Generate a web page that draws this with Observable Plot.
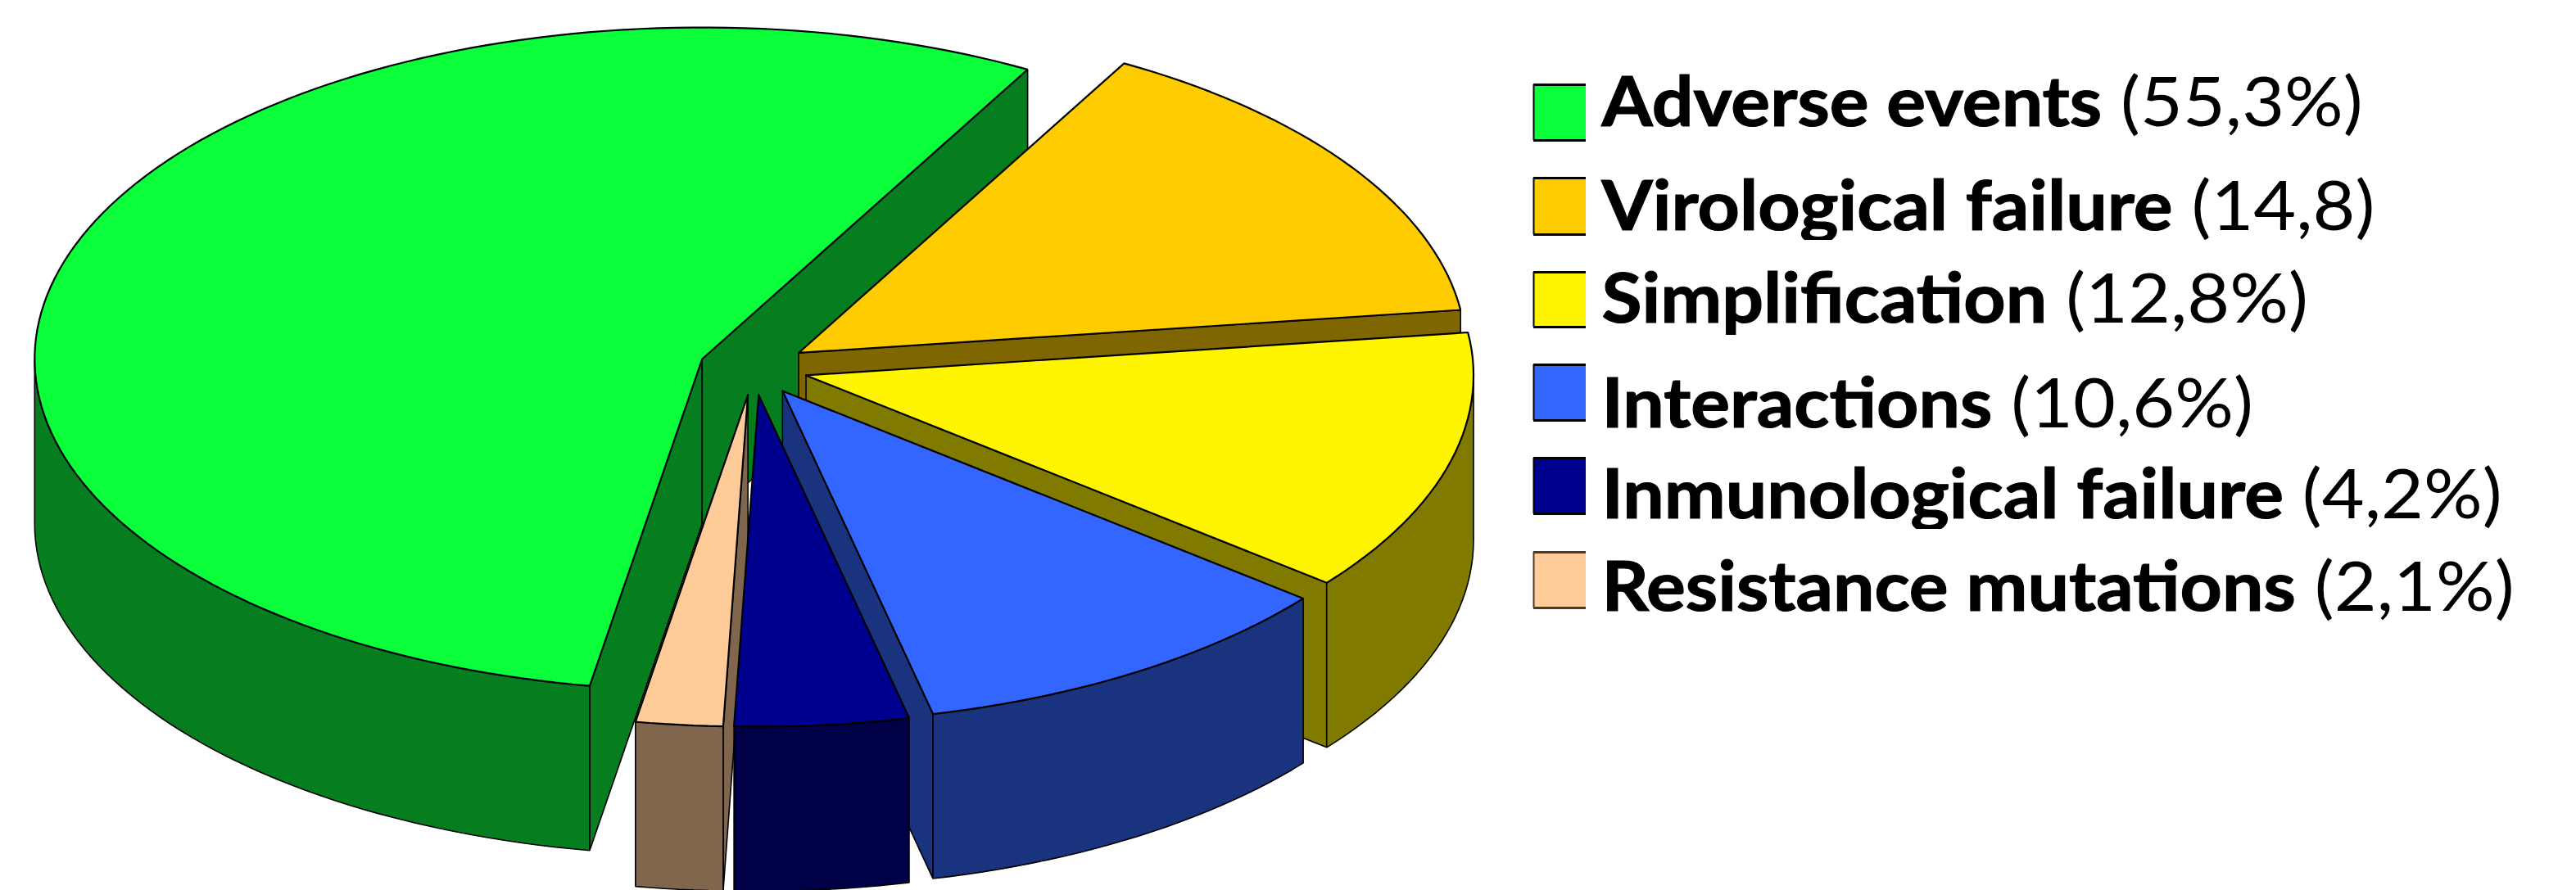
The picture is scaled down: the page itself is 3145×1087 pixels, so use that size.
<!DOCTYPE html>
<html>
<head>
<meta charset="utf-8">
<script src="https://cdn.jsdelivr.net/npm/d3@7"></script>
<script src="https://cdn.jsdelivr.net/npm/@observablehq/plot@0.6"></script>
<style>
html,body{margin:0;padding:0;background:#fff;overflow:hidden}
svg{display:block;max-width:none}
</style>
</head>
<body>
<div id="chart"></div>
<script>
const categories = ["Adverse events","Virological failure","Simplification","Interactions","Inmunological failure","Resistance mutations"];
const values = [55.3,14.8,12.8,10.6,4.2,2.1];
const valueLabels = ["(55,3%)","(14,8)","(12,8%)","(10,6%)","(4,2%)","(2,1%)"];
const topColors = ["#0aff3a","#ffcc00","#fff500","#3366ff","#00008f","#ffcc99"];
const wallColors = ["#067d1e","#806600","#807a00","#19337f","#000047","#80664d"];
const drawOrder = [0,1,2,3,5,4];

// layout of the pie
const W = 3145, H = 1087;
const pie = {cx:919.5, cy:449, rx:815, ry:405, depth:201, explode:0.0816, startDeg:99.7};
// layout of the legend
const legend = {swatchX1:1872, swatchX2:1936, textX:1955, fontSize:84, stretch:1.066,
  swatchTop:[103,217,332,445,559,674], swatchBottom:[171,286,399,513,627,742], baseline:[153,280,393,521,632,745],
  borders:["#000","#000","#000","#000","#000","#4d3a26"]};
const masks = [[293,325],[646,675]];

const total = d3.sum(values);
const rad = d => d*Math.PI/180;
let acc = pie.startDeg;
const slices = values.map((v,i)=>{
  let a0 = acc, a1 = acc + v/total*360; acc = a1;
  if(a0>=180){a0-=360;a1-=360;}
  const mid = rad((a0+a1)/2);
  return {i, a0, a1, ax: pie.cx + pie.explode*pie.rx*Math.cos(mid), ay: pie.cy + pie.explode*pie.ry*Math.sin(mid)};
});
function arcPts(s,a0,a1,dz=0){
  const n = Math.max(2,Math.ceil(Math.abs(a1-a0)/1.5)), out=[];
  for(let k=0;k<=n;k++){
    const t = rad(a0+(a1-a0)*k/n);
    out.push({x:s.ax+pie.rx*Math.cos(t), y:s.ay+pie.ry*Math.sin(t)+dz});
  }
  return out;
}
const poly = (pts,fill,sw)=>Plot.line([...pts,pts[0]],{x:"x",y:"y",fill,stroke:"#000",strokeWidth:sw,curve:"linear",strokeLinejoin:"miter"});
const visibleWall = deg => Math.sin(rad(deg)) > 0; // normal of the radial wall faces the viewer

const pieMarks = drawOrder.flatMap(i=>{
  const s = slices[i], marks = [], d = pie.depth, wall = wallColors[i];
  const radial = a => {
    const p = arcPts(s,a,a)[0];
    return poly([{x:s.ax,y:s.ay},p,{x:p.x,y:p.y+d},{x:s.ax,y:s.ay+d}],wall,1.6);
  };
  if(visibleWall(s.a0-90)) marks.push(radial(s.a0));
  if(visibleWall(s.a1+90)) marks.push(radial(s.a1));
  const lo = Math.max(s.a0,0), hi = Math.min(s.a1,180);
  if(hi>lo){
    marks.push(poly([...arcPts(s,lo,hi),...arcPts(s,hi,lo,d)],wall,1.6));
  }
  marks.push(poly([{x:s.ax,y:s.ay},...arcPts(s,s.a0,s.a1)],topColors[i],2.2));
  return marks;
});

const rows = categories.map((c,i)=>({
  label:c+" "+valueLabels[i], fill:topColors[i], border:legend.borders[i],
  top:legend.swatchTop[i], bottom:legend.swatchBottom[i], base:legend.baseline[i]
}));

const plot = Plot.plot({
  width:W, height:H, margin:0,
  x:{domain:[0,W],range:[0,W],axis:null},
  y:{domain:[0,H],range:[0,H],axis:null},
  marks:[
    ...pieMarks,
    Plot.rect(rows,{x1:legend.swatchX1,x2:legend.swatchX2,y1:"top",y2:"bottom",fill:"fill"}),
    Plot.ruleY(rows,{y:"top",x1:legend.swatchX1,x2:legend.swatchX2,stroke:"border",strokeWidth:3}),
    Plot.ruleY(rows,{y:"bottom",x1:legend.swatchX1,x2:legend.swatchX2,stroke:"border",strokeWidth:3}),
    Plot.ruleX(rows,{x:legend.swatchX1,y1:"top",y2:"bottom",stroke:"border",strokeWidth:2}),
    Plot.text(rows,{x:legend.textX,y:"base",text:"label",textAnchor:"start",lineAnchor:"bottom",fontSize:legend.fontSize,fontFamily:"Lato",fill:"#000"}),
    Plot.rect(masks,{x1:legend.textX-5,x2:W,y1:d=>d[0],y2:d=>d[1],fill:"#fff"})
  ]
});
plot.querySelectorAll("text").forEach(t=>{
  const s = t.textContent, k = s.indexOf(" (");
  if(k<0) return;
  t.textContent = "";
  const ns = "http://www.w3.org/2000/svg";
  const b = document.createElementNS(ns,"tspan");
  b.setAttribute("font-weight","bold"); b.setAttribute("stroke","#000"); b.setAttribute("stroke-width","1.2");
  b.textContent = s.slice(0,k);
  const r = document.createElementNS(ns,"tspan"); r.textContent = s.slice(k);
  t.append(b,r);
  t.setAttribute("xml:space","preserve");
  t.setAttribute("transform",t.getAttribute("transform")+` scale(${legend.stretch},1)`);
});
document.getElementById("chart").append(plot);
</script>
</body>
</html>
